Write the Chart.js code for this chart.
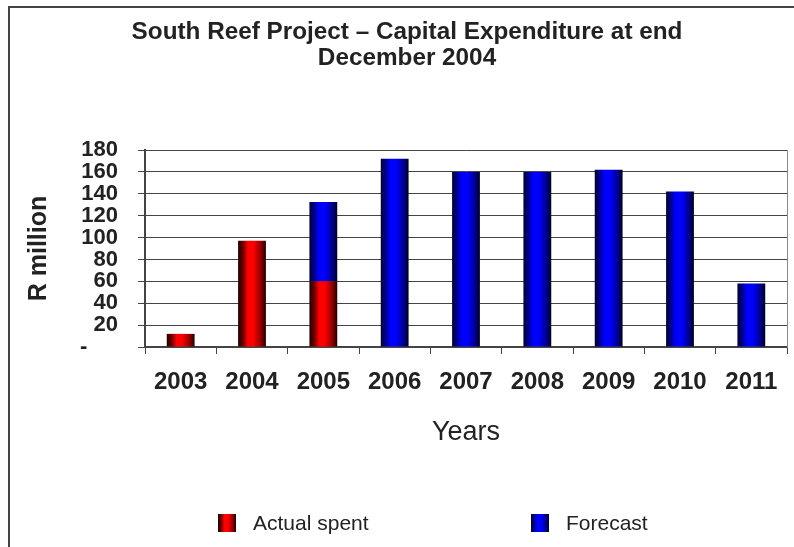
<!DOCTYPE html>
<html>
<head>
<meta charset="utf-8">
<script src="https://cdn.jsdelivr.net/npm/chart.js@4/dist/chart.umd.min.js"></script>
<style>
  html, body { margin: 0; padding: 0; background: #fff; overflow: hidden; }
  #wrap { position: relative; width: 794px; height: 547px; overflow: hidden; }
  #frame { position: absolute; left: 8px; top: 6px; width: 900px; height: 700px;
           border-left: 2px solid #444; border-top: 2px solid #444; box-sizing: border-box; }
  canvas { position: absolute; left: 0; top: 0; }
  .leg { position: absolute; top: 512px; font: 21px "Liberation Sans", Arial, sans-serif; color: #222;
         line-height: 22px; white-space: nowrap; }
  .leg i { position: absolute; top: 2px; width: 18px; height: 18px; display: block; }
  .leg span { position: absolute; left: 35px; top: 0; }
</style>
</head>
<body>
<div id="wrap">
  <div id="frame"></div>
  <canvas id="c" width="794" height="547"></canvas>
  <div class="leg" style="left:218px"><i style="background:linear-gradient(90deg,#200000 0%,#700000 18%,#ff0000 35%,#ff0000 55%,#900000 82%,#200000 100%)"></i><span>Actual spent</span></div>
  <div class="leg" style="left:531px"><i style="background:linear-gradient(90deg,#000030 0%,#000090 18%,#0000ff 35%,#0000ff 55%,#000090 82%,#000020 100%)"></i><span>Forecast</span></div>
</div>
<script>
const years = ['2003', '2004', '2005', '2006', '2007', '2008', '2009', '2010', '2011'];
const actualSpent = [12, 97, 60, null, null, null, null, null, null];
const forecast = [null, null, 72.5, 172, 160, 160, 162, 142, 58];
const yTicks = [0, 20, 40, 60, 80, 100, 120, 140, 160, 180];

const FONT = '"Liberation Sans", Arial, sans-serif';
const TXT = '#222';

function gradFill(stops, solid) {
  return function (ctx) {
    const chart = ctx.chart;
    if (!chart.chartArea || ctx.type !== 'data') return solid;
    const xs = chart.scales.x;
    const cx = xs.getPixelForValue(ctx.dataIndex);
    const w = (chart.chartArea.right - chart.chartArea.left) / years.length * 0.39;
    const g = chart.ctx.createLinearGradient(cx - w / 2, 0, cx + w / 2, 0);
    stops.forEach(s => g.addColorStop(s[0], s[1]));
    return g;
  };
}
const redStops = [[0, '#200000'], [0.18, '#700000'], [0.35, '#ff0000'], [0.55, '#ff0000'], [0.82, '#900000'], [1, '#200000']];
const blueStops = [[0, '#000030'], [0.18, '#000090'], [0.35, '#0000ff'], [0.55, '#0000ff'], [0.82, '#000090'], [1, '#000020']];

new Chart(document.getElementById('c'), {
  type: 'bar',
  data: {
    labels: years,
    datasets: [
      { label: 'Actual spent', data: actualSpent, backgroundColor: gradFill(redStops, '#ff0000'),
        borderWidth: 0, barPercentage: 0.39, categoryPercentage: 1 },
      { label: 'Forecast', data: forecast, backgroundColor: gradFill(blueStops, '#0000ff'),
        borderWidth: 0, barPercentage: 0.39, categoryPercentage: 1 }
    ]
  },
  options: {
    responsive: false,
    animation: false,
    layout: { padding: { left: 27, right: 7, top: 0, bottom: 90 } },
    plugins: {
      legend: { display: false },
      tooltip: { enabled: false },
      title: {
        display: true,
        text: ['South Reef Project \u2013 Capital Expenditure at end', 'December 2004'],
        color: TXT,
        font: { family: FONT, size: 24.3, weight: 'bold', lineHeight: 1.07 },
        padding: { top: 19, bottom: 79 }
      }
    },
    scales: {
      x: {
        stacked: true,
        offset: true,
        grid: { display: true, drawOnChartArea: false, drawTicks: true, tickLength: 7, offset: true, color: '#444', lineWidth: 1 },
        border: { display: true, color: '#444', width: 2 },
        ticks: { color: TXT, font: { family: FONT, size: 24, weight: 'bold' }, padding: 14, maxRotation: 0, autoSkip: false },
        title: { display: true, text: 'Years', color: TXT, font: { family: FONT, size: 27 }, padding: { top: 0, bottom: 8 } },
        afterFit: s => { s.height = 110; }
      },
      y: {
        stacked: true,
        min: 0, max: 180,
        afterBuildTicks: s => { s.ticks = yTicks.map(v => ({ value: v })); },
        grid: { color: '#444', lineWidth: 1, tickLength: 7 },
        border: { display: true, color: '#444', width: 2 },
        ticks: { color: TXT, font: { family: FONT, size: 22, weight: 'bold' }, padding: 20, autoSkip: false,
                 callback: v => v === 0 ? '-     ' : String(v) },
        title: { display: true, text: 'R million', color: TXT, font: { family: FONT, size: 25, weight: 'bold', lineHeight: 1 }, padding: { top: 0, bottom: 0 } },
        afterFit: s => { s.width = 118; }
      },
      y2: {
        position: 'right',
        min: 0, max: 180,
        grid: { display: false, drawTicks: false },
        border: { display: true, color: '#888', width: 1 },
        ticks: { display: false },
        afterFit: s => { s.width = 0; }
      }
    }
  }
});
</script>
</body>
</html>
